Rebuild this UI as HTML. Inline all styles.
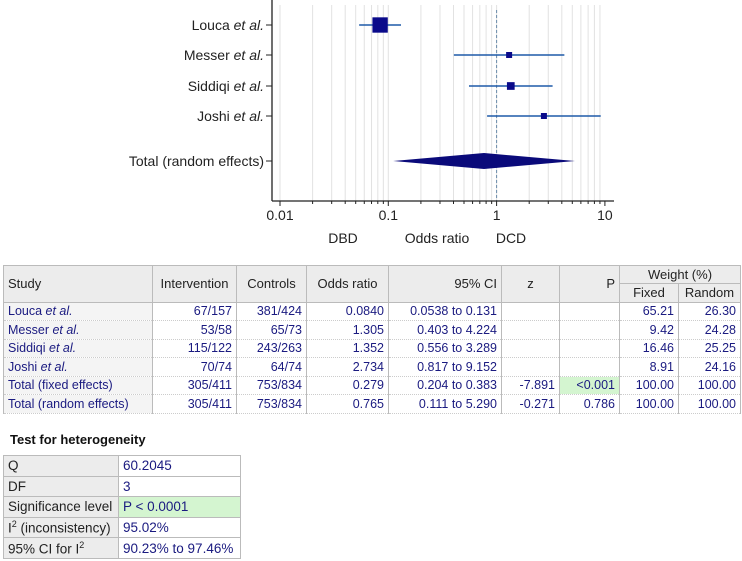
<!DOCTYPE html>
<html><head><meta charset="utf-8">
<style>
body{margin:0;width:742px;height:561px;background:#fff;font-family:"Liberation Sans",Arial,sans-serif;position:relative;overflow:hidden}
svg{position:absolute;left:0;top:0}
table{border-collapse:collapse;position:absolute;font-size:12.5px;table-layout:fixed}
td{border:1px solid #bbb;padding:0 4px;white-space:nowrap;color:#1a1a80;overflow:hidden}
#main td{height:17.5px;border-top:1px dotted #ccc;border-bottom:1px dotted #ccc}
#main .h td{background:#ececec;color:#222;border:1px solid #bbb;font-size:13px}
.r{text-align:right}.c{text-align:center}
.s{background:#f4f4f4}
.g{background:#d4f5d0}
#het td{height:19.6px;font-size:13.5px}
#het td.l{background:#ececec;color:#222}
</style></head><body>
<svg width="742" height="260" id="plot"></svg>
<table id="main" style="left:3px;top:265px;width:737px">
<colgroup><col style="width:149px"><col style="width:84px"><col style="width:70px"><col style="width:82px"><col style="width:113px"><col style="width:58px"><col style="width:60px"><col style="width:59px"><col style="width:62px"></colgroup>
<tr class="h"><td rowspan="2" style="height:35px">Study</td><td rowspan="2" class="c">Intervention</td><td rowspan="2" class="c">Controls</td><td rowspan="2" class="c">Odds ratio</td><td rowspan="2" class="r">95% CI</td><td rowspan="2" class="c">z</td><td rowspan="2" class="r">P</td><td colspan="2" class="c" style="height:17px">Weight (%)</td></tr>
<tr class="h"><td class="c" style="height:17px">Fixed</td><td class="c">Random</td></tr>
<tr><td class="s">Louca <i>et al.</i></td><td class="r">67/157</td><td class="r">381/424</td><td class="r">0.0840</td><td class="r">0.0538 to 0.131</td><td></td><td></td><td class="r">65.21</td><td class="r">26.30</td></tr>
<tr><td class="s">Messer <i>et al.</i></td><td class="r">53/58</td><td class="r">65/73</td><td class="r">1.305</td><td class="r">0.403 to 4.224</td><td></td><td></td><td class="r">9.42</td><td class="r">24.28</td></tr>
<tr><td class="s">Siddiqi <i>et al.</i></td><td class="r">115/122</td><td class="r">243/263</td><td class="r">1.352</td><td class="r">0.556 to 3.289</td><td></td><td></td><td class="r">16.46</td><td class="r">25.25</td></tr>
<tr><td class="s">Joshi <i>et al.</i></td><td class="r">70/74</td><td class="r">64/74</td><td class="r">2.734</td><td class="r">0.817 to 9.152</td><td></td><td></td><td class="r">8.91</td><td class="r">24.16</td></tr>
<tr><td class="s">Total (fixed effects)</td><td class="r">305/411</td><td class="r">753/834</td><td class="r">0.279</td><td class="r">0.204 to 0.383</td><td class="r">-7.891</td><td class="r g">&lt;0.001</td><td class="r">100.00</td><td class="r">100.00</td></tr>
<tr><td class="s">Total (random effects)</td><td class="r">305/411</td><td class="r">753/834</td><td class="r">0.765</td><td class="r">0.111 to 5.290</td><td class="r">-0.271</td><td class="r">0.786</td><td class="r">100.00</td><td class="r">100.00</td></tr>
</table>
<div style="position:absolute;left:10px;top:432px;font-size:13px;font-weight:bold;color:#111">Test for heterogeneity</div>
<table id="het" style="left:3px;top:455px;width:237px">
<colgroup><col style="width:115px"><col style="width:122px"></colgroup>
<tr><td class="l">Q</td><td>60.2045</td></tr>
<tr><td class="l">DF</td><td>3</td></tr>
<tr><td class="l">Significance level</td><td class="g">P &lt; 0.0001</td></tr>
<tr><td class="l">I<sup style="font-size:9px">2</sup> (inconsistency)</td><td>95.02%</td></tr>
<tr><td class="l">95% CI for I<sup style="font-size:9px">2</sup></td><td>90.23% to 97.46%</td></tr>
</table>
<script>
const studies=["Louca","Messer","Siddiqi","Joshi"];
const orVals=[0.0840,1.305,1.352,2.734];
const lowVals=[0.0538,0.403,0.556,0.817];
const highVals=[0.131,4.224,3.289,9.152];
const fixedWeights=[65.21,9.42,16.46,8.91];
const totalOR=0.765, totalLow=0.111, totalHigh=5.290;
const ticks=[0.01,0.1,1,10];
const NS="http://www.w3.org/2000/svg";
const svg=document.getElementById('plot');
const x0=280,dec=108.3;
function xs(v){return x0+(Math.log10(v)+2)*dec;}
const rowY=[25,55,86,116], totY=161, baseY=201;
function el(t,a,p){const e=document.createElementNS(NS,t);for(const k in a)e.setAttribute(k,a[k]);(p||svg).appendChild(e);return e;}
for(let d=-2;d<1;d++)for(let m=1;m<=9;m++){const v=m*Math.pow(10,d);const g=el('line',{x1:xs(v),x2:xs(v),y1:5,y2:baseY,stroke:'#e2e2e2','stroke-width':1});

}
const ref=el('line',{x1:xs(1),x2:xs(1),y1:10,y2:baseY,stroke:'#6a8aaa','stroke-width':1,'stroke-dasharray':'3,2'});


const ya=el('line',{x1:272,x2:272,y1:0,y2:baseY,stroke:'#222','stroke-width':1.3});


const xa=el('line',{x1:272,x2:614,y1:baseY,y2:baseY,stroke:'#222','stroke-width':1.3});


for(let d=-2;d<1;d++)for(let m=1;m<=9;m++){const v=m*Math.pow(10,d);el('line',{x1:xs(v),x2:xs(v),y1:baseY,y2:baseY+(m==1?5:3),stroke:'#222'});}
el('line',{x1:xs(10),x2:xs(10),y1:baseY,y2:baseY+5,stroke:'#222'});
ticks.forEach(t=>{const tx=el('text',{x:xs(t),y:220,'text-anchor':'middle','font-size':14,fill:'#222','font-family':'Liberation Sans'});tx.textContent=String(t);

});
[["DBD",343],["Odds ratio",437],["DCD",511]].forEach(([s,x])=>{const t=el('text',{x:x,y:243,'text-anchor':'middle','font-size':14,fill:'#222','font-family':'Liberation Sans'});t.textContent=s;

});
studies.forEach((s,i)=>{const y=rowY[i];
el('line',{x1:266,x2:272,y1:y,y2:y,stroke:'#222'});
const lab=el('text',{x:264,y:y+5,'text-anchor':'end','font-size':14,fill:'#222','font-family':'Liberation Sans'});
lab.innerHTML=s+' <tspan font-style="italic">et al.</tspan>';


const ci=el('line',{x1:xs(lowVals[i]),x2:xs(highVals[i]),y1:y,y2:y,stroke:'#1e5aa8','stroke-width':1.5});


const sz=Math.max(6,Math.sqrt(fixedWeights[i])*1.9);
const sq=el('rect',{x:xs(orVals[i])-sz/2,y:y-sz/2,width:sz,height:sz,fill:'#0a0a8a'});

});
el('line',{x1:266,x2:272,y1:totY,y2:totY,stroke:'#222'});
const tl=el('text',{x:264,y:totY+5,'text-anchor':'end','font-size':14,fill:'#222','font-family':'Liberation Sans'});tl.textContent='Total (random effects)';


const dm=el('polygon',{points:`${xs(totalLow)},${totY} ${xs(totalOR)},${totY-8} ${xs(totalHigh)},${totY} ${xs(totalOR)},${totY+8}`,fill:'#0a0a7a'});


</script>
</body></html>
